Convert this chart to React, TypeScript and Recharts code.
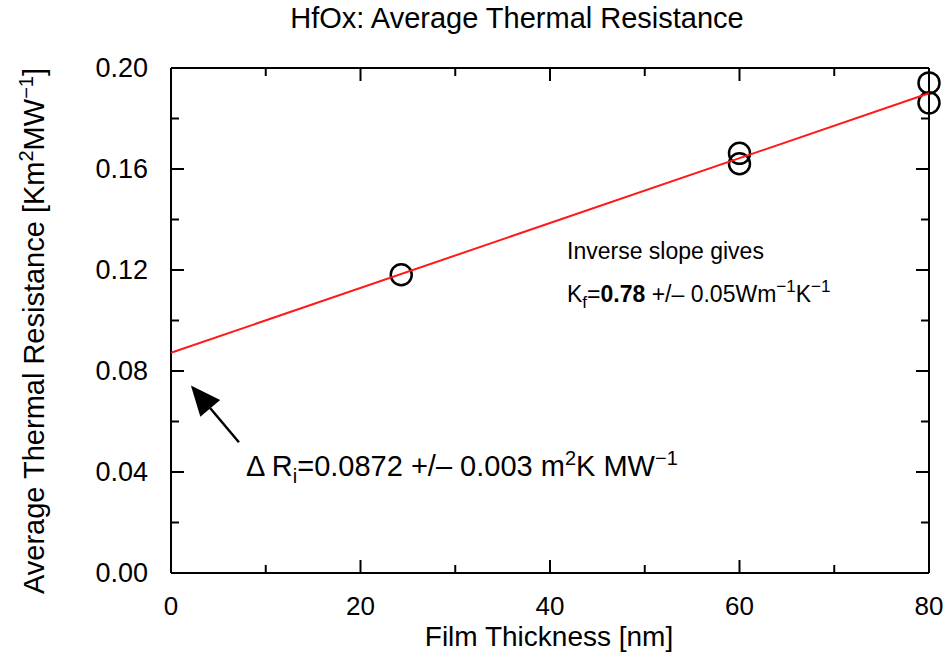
import React from 'react'
import { ComposedChart, Scatter, XAxis, YAxis, ReferenceLine } from 'recharts'

// measured points (thickness nm, resistance K m^2/MW)
const thickness = [24.3, 60, 60, 80, 80]
const resistance = [0.1181, 0.1662, 0.1621, 0.1941, 0.1862]

// linear fit end points
const fitX = [0, 80]
const fitY = [0.0872, 0.19]

// arrow from label to intercept (tail, tip)
const arrowX = [7.17, 2.1]
const arrowY = [0.0518, 0.0743]

const xTicks = [0, 10, 20, 30, 40, 50, 60, 70, 80]
const yTicks = [0, 0.02, 0.04, 0.06, 0.08, 0.1, 0.12, 0.14, 0.16, 0.18, 0.2]

const points = thickness.map((x, i) => ({ x, y: resistance[i] }))
const fit = fitX.map((x, i) => ({ x, y: fitY[i] }))

const FONT = '"Liberation Sans", Arial, Helvetica, sans-serif'
const W = 949
const H = 654

const xMajor = (v: number) => Math.round(v) % 20 === 0
const yMajor = (v: number) => Math.round(v * 100) % 4 === 0

function makeTick(side: 'bottom' | 'top' | 'left' | 'right') {
  return (props: any) => {
    const { x, y, payload } = props
    const v = payload.value as number
    const major = side === 'bottom' || side === 'top' ? xMajor(v) : yMajor(v)
    const len = major ? 13 : 8
    let line
    if (side === 'bottom') line = <line x1={x} y1={y} x2={x} y2={y - len} stroke="#000" strokeWidth={2} />
    else if (side === 'top') line = <line x1={x} y1={y} x2={x} y2={y + len} stroke="#000" strokeWidth={2} />
    else if (side === 'left') line = <line x1={x} y1={y} x2={x + len} y2={y} stroke="#000" strokeWidth={2} />
    else line = <line x1={x} y1={y} x2={x - len} y2={y} stroke="#000" strokeWidth={2} />
    let label = null
    if (major && side === 'bottom') {
      label = (
        <text x={x} y={y + 42} textAnchor="middle" fontSize={26} fontFamily={FONT} fill="#000">
          {String(v)}
        </text>
      )
    }
    if (major && side === 'left') {
      label = (
        <text x={x - 23} y={y + 9} textAnchor="end" fontSize={27} fontFamily={FONT} fill="#000">
          {v.toFixed(2)}
        </text>
      )
    }
    return (
      <g>
        {line}
        {label}
      </g>
    )
  }
}

const circleShape = (p: any) => (
  <circle cx={p.cx} cy={p.cy} r={10.5} fill="none" stroke="#000" strokeWidth={2.5} />
)

const arrowShape = (p: any) => {
  const { x1, y1, x2, y2 } = p
  const a = Math.atan2(y2 - y1, x2 - x1)
  const hl = 30
  const hw = 13
  const bx = x2 - hl * Math.cos(a)
  const by = y2 - hl * Math.sin(a)
  const nx = -Math.sin(a)
  const ny = Math.cos(a)
  return (
    <g>
      <line x1={x1} y1={y1} x2={bx} y2={by} stroke="#000" strokeWidth={2.5} />
      <polygon
        points={`${x2},${y2} ${bx + nx * hw},${by + ny * hw} ${bx - nx * hw},${by - ny * hw}`}
        fill="#000"
      />
    </g>
  )
}

const axisLine = { stroke: '#000', strokeWidth: 2 }
const noShape = () => <g />

export default function App() {
  return (
    <div style={{ position: 'absolute', left: 0, top: 0, width: W, height: H, background: '#fff' }}>
      <ComposedChart width={W} height={H} margin={{ top: 67, right: 19, left: 0, bottom: 0 }}>
        <XAxis
          dataKey="x"
          type="number"
          domain={[0, 80]}
          ticks={xTicks}
          interval={0}
          height={81}
          tickSize={0}
          tickMargin={0}
          axisLine={axisLine}
          tickLine={false}
          tick={makeTick('bottom')}
        />
        <XAxis
          xAxisId="top"
          dataKey="x"
          orientation="top"
          type="number"
          domain={[0, 80]}
          ticks={xTicks}
          interval={0}
          height={1}
          tickSize={0}
          tickMargin={0}
          axisLine={axisLine}
          tickLine={false}
          tick={makeTick('top')}
        />
        <YAxis
          dataKey="y"
          type="number"
          domain={[0, 0.2]}
          ticks={yTicks}
          interval={0}
          width={171}
          tickSize={0}
          tickMargin={0}
          axisLine={axisLine}
          tickLine={false}
          tick={makeTick('left')}
        />
        <YAxis
          yAxisId="right"
          dataKey="y"
          orientation="right"
          type="number"
          domain={[0, 0.2]}
          ticks={yTicks}
          interval={0}
          width={1}
          tickSize={0}
          tickMargin={0}
          axisLine={axisLine}
          tickLine={false}
          tick={makeTick('right')}
        />
        {/* invisible series so the mirrored frame axes get a scale */}
        <Scatter xAxisId="top" yAxisId="right" data={points} shape={noShape} isAnimationActive={false} />
        <Scatter data={points} shape={circleShape} isAnimationActive={false} />
        <Scatter
          data={fit}
          line={{ stroke: '#ff1a1a', strokeWidth: 2 }}
          lineType="joint"
          shape={noShape}
          isAnimationActive={false}
        />
        <ReferenceLine
          segment={[
            { x: arrowX[0], y: arrowY[0] },
            { x: arrowX[1], y: arrowY[1] },
          ]}
          shape={arrowShape}
          ifOverflow="visible"
        />
      </ComposedChart>
      <svg
        width={W}
        height={H}
        style={{ position: 'absolute', left: 0, top: 0, pointerEvents: 'none' }}
        fontFamily={FONT}
        fill="#000"
      >
        <text x={517} y={28} textAnchor="middle" fontSize={29}>
          HfOx: Average Thermal Resistance
        </text>
        <text x={549} y={646} textAnchor="middle" fontSize={28}>
          Film Thickness [nm]
        </text>
        <text transform="translate(44,331) rotate(-90)" textAnchor="middle" fontSize={29}>
          Average Thermal Resistance [Km
          <tspan dy={-11} fontSize={20}>2</tspan>
          <tspan dy={11}>MW</tspan>
          <tspan dy={-11} fontSize={20}>−1</tspan>
          <tspan dy={11}>]</tspan>
        </text>
        <text x={567} y={259} fontSize={23}>
          Inverse slope gives
        </text>
        <text x={567} y={302} fontSize={23}>
          K<tspan dy={6} fontSize={17}>f</tspan>
          <tspan dy={-6}>=</tspan>
          <tspan fontWeight="bold">0.78</tspan>
          <tspan> +/– 0.05Wm</tspan>
          <tspan dy={-10} fontSize={17}>−1</tspan>
          <tspan dy={10}>K</tspan>
          <tspan dy={-10} fontSize={17}>−1</tspan>
        </text>
        <text x={246} y={476} fontSize={29}>
          Δ R<tspan dy={7} fontSize={20}>i</tspan>
          <tspan dy={-7}>=0.0872 +/– 0.003 m</tspan>
          <tspan dy={-11} fontSize={20}>2</tspan>
          <tspan dy={11}>K MW</tspan>
          <tspan dy={-11} fontSize={20}>−1</tspan>
        </text>
      </svg>
    </div>
  )
}
